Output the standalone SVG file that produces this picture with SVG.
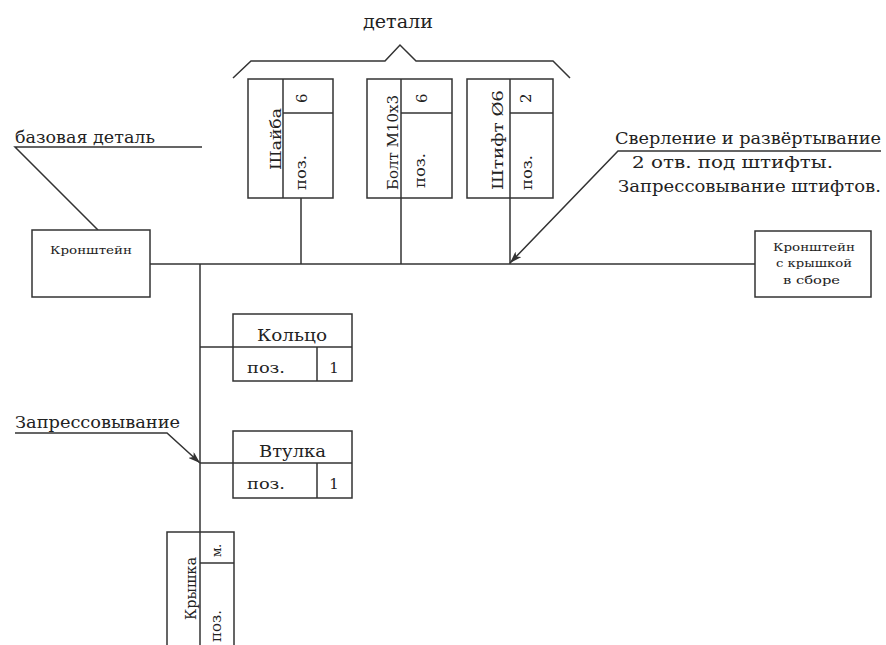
<svg xmlns="http://www.w3.org/2000/svg" width="886" height="645" viewBox="0 0 886 645">
<defs>
<style>
.ln{stroke:#333;stroke-width:1.5;fill:none}
.bx{stroke:#333;stroke-width:1.5;fill:#fff}
text{font-family:'DejaVu Serif',serif;fill:#222}
.big{font-size:17px}
.mid{font-size:15px}
.sm{font-size:10.5px}
</style>
<marker id="ar" viewBox="0 0 12 8" refX="12" refY="4" markerWidth="12" markerHeight="8" markerUnits="userSpaceOnUse" orient="auto">
<path d="M0,0 L12,4 L0,8 L3,4 Z" fill="#333"/>
</marker>
</defs>
<rect width="886" height="645" fill="#fff"/>

<g id="connectors">
<line class="ln" x1="150" y1="264" x2="755" y2="264"/>
<line class="ln" x1="200" y1="264" x2="200" y2="645"/>
<line class="ln" x1="301" y1="198" x2="301" y2="264"/>
<line class="ln" x1="401" y1="198" x2="401" y2="264"/>
<line class="ln" x1="510" y1="198" x2="510" y2="264"/>
<line class="ln" x1="200" y1="347" x2="233" y2="347"/>
<line class="ln" x1="200" y1="463" x2="233" y2="463"/>
</g>

<g id="label-detali">
<text x="363" y="28" font-size="19" textLength="70" lengthAdjust="spacingAndGlyphs">детали</text>
<polyline class="ln" points="233,78 251,61 385,61 400,45 416,61 553,61 570,78"/>
</g>

<g id="label-base">
<text class="big" x="15" y="143" textLength="140" lengthAdjust="spacingAndGlyphs">базовая деталь</text>
<polyline class="ln" points="202,147 15,147 98,230"/>
</g>

<g id="label-drill">
<text class="big" x="615" y="144" textLength="266" lengthAdjust="spacingAndGlyphs">Сверление и развёртывание</text>
<text class="big" x="632" y="168" textLength="201" lengthAdjust="spacingAndGlyphs">2 отв. под штифты.</text>
<text class="big" x="618" y="192" textLength="263" lengthAdjust="spacingAndGlyphs">Запрессовывание штифтов.</text>
<polyline class="ln" points="881,151 618,151 510,263" marker-end="url(#ar)"/>
</g>

<g id="label-press">
<text class="big" x="15" y="428" textLength="165" lengthAdjust="spacingAndGlyphs">Запрессовывание</text>
<polyline class="ln" points="15,433 167,433 200,463" marker-end="url(#ar)"/>
</g>

<g id="node-kronshtein">
<rect class="bx" x="32" y="230" width="118" height="67"/>
<text class="sm" x="50" y="254" textLength="82" lengthAdjust="spacingAndGlyphs">Кронштейн</text>
</g>

<g id="node-assembly">
<rect class="bx" x="755" y="231" width="116" height="66"/>
<text class="sm" x="773" y="251" textLength="82" lengthAdjust="spacingAndGlyphs">Кронштейн</text>
<text class="sm" x="776" y="267" textLength="76" lengthAdjust="spacingAndGlyphs">с крышкой</text>
<text class="sm" x="783" y="284" textLength="57" lengthAdjust="spacingAndGlyphs">в сборе</text>
</g>

<g id="node-shaiba">
<rect class="bx" x="248" y="79" width="85" height="119"/>
<line class="ln" x1="283" y1="79" x2="283" y2="198"/>
<line class="ln" x1="283" y1="113" x2="333" y2="113"/>
<text class="mid" transform="translate(281,170) rotate(-90)" textLength="62" lengthAdjust="spacingAndGlyphs">Шайба</text>
<text class="mid" transform="translate(306,190) rotate(-90)" textLength="35" lengthAdjust="spacingAndGlyphs">поз.</text>
<text class="mid" transform="translate(307,103) rotate(-90)">6</text>
</g>

<g id="node-bolt">
<rect class="bx" x="367" y="79" width="85" height="119"/>
<line class="ln" x1="401" y1="79" x2="401" y2="198"/>
<line class="ln" x1="401" y1="113" x2="452" y2="113"/>
<text class="mid" transform="translate(398,190) rotate(-90)" textLength="95" lengthAdjust="spacingAndGlyphs">Болт М10х3</text>
<text class="mid" transform="translate(425,188) rotate(-90)" textLength="35" lengthAdjust="spacingAndGlyphs">поз.</text>
<text class="mid" transform="translate(427,103) rotate(-90)">6</text>
</g>

<g id="node-shtift">
<rect class="bx" x="467" y="79" width="86" height="119"/>
<line class="ln" x1="510" y1="79" x2="510" y2="198"/>
<line class="ln" x1="510" y1="113" x2="553" y2="113"/>
<text class="mid" transform="translate(503,190) rotate(-90)" textLength="100" lengthAdjust="spacingAndGlyphs">Штифт Ø6</text>
<text class="mid" transform="translate(532,190) rotate(-90)" textLength="35" lengthAdjust="spacingAndGlyphs">поз.</text>
<text class="mid" transform="translate(531,103) rotate(-90)">2</text>
</g>

<g id="node-kolco">
<rect class="bx" x="233" y="314" width="119" height="67"/>
<line class="ln" x1="233" y1="347" x2="352" y2="347"/>
<line class="ln" x1="317" y1="347" x2="317" y2="381"/>
<text class="big" x="257" y="341" textLength="70" lengthAdjust="spacingAndGlyphs">Кольцо</text>
<text class="mid" x="247" y="373" textLength="38" lengthAdjust="spacingAndGlyphs">поз.</text>
<text class="mid" x="334" y="373" text-anchor="middle">1</text>
</g>

<g id="node-vtulka">
<rect class="bx" x="233" y="431" width="119" height="67"/>
<line class="ln" x1="233" y1="463" x2="352" y2="463"/>
<line class="ln" x1="317" y1="463" x2="317" y2="498"/>
<text class="big" x="259" y="457" textLength="67" lengthAdjust="spacingAndGlyphs">Втулка</text>
<text class="mid" x="247" y="489" textLength="38" lengthAdjust="spacingAndGlyphs">поз.</text>
<text class="mid" x="334" y="489" text-anchor="middle">1</text>
</g>

<g id="node-kryshka">
<path class="bx" d="M167,646 L167,532 L234,532 L234,646"/>
<line class="ln" x1="200" y1="532" x2="200" y2="645"/>
<line class="ln" x1="200" y1="563" x2="234" y2="563"/>
<text font-size="15" transform="translate(196,620) rotate(-90)" textLength="63" lengthAdjust="spacingAndGlyphs">Крышка</text>
<text font-size="15" transform="translate(221,642) rotate(-90)">поз.</text>
<text font-size="12" transform="translate(221,557) rotate(-90)">м.</text>
</g>
</svg>
